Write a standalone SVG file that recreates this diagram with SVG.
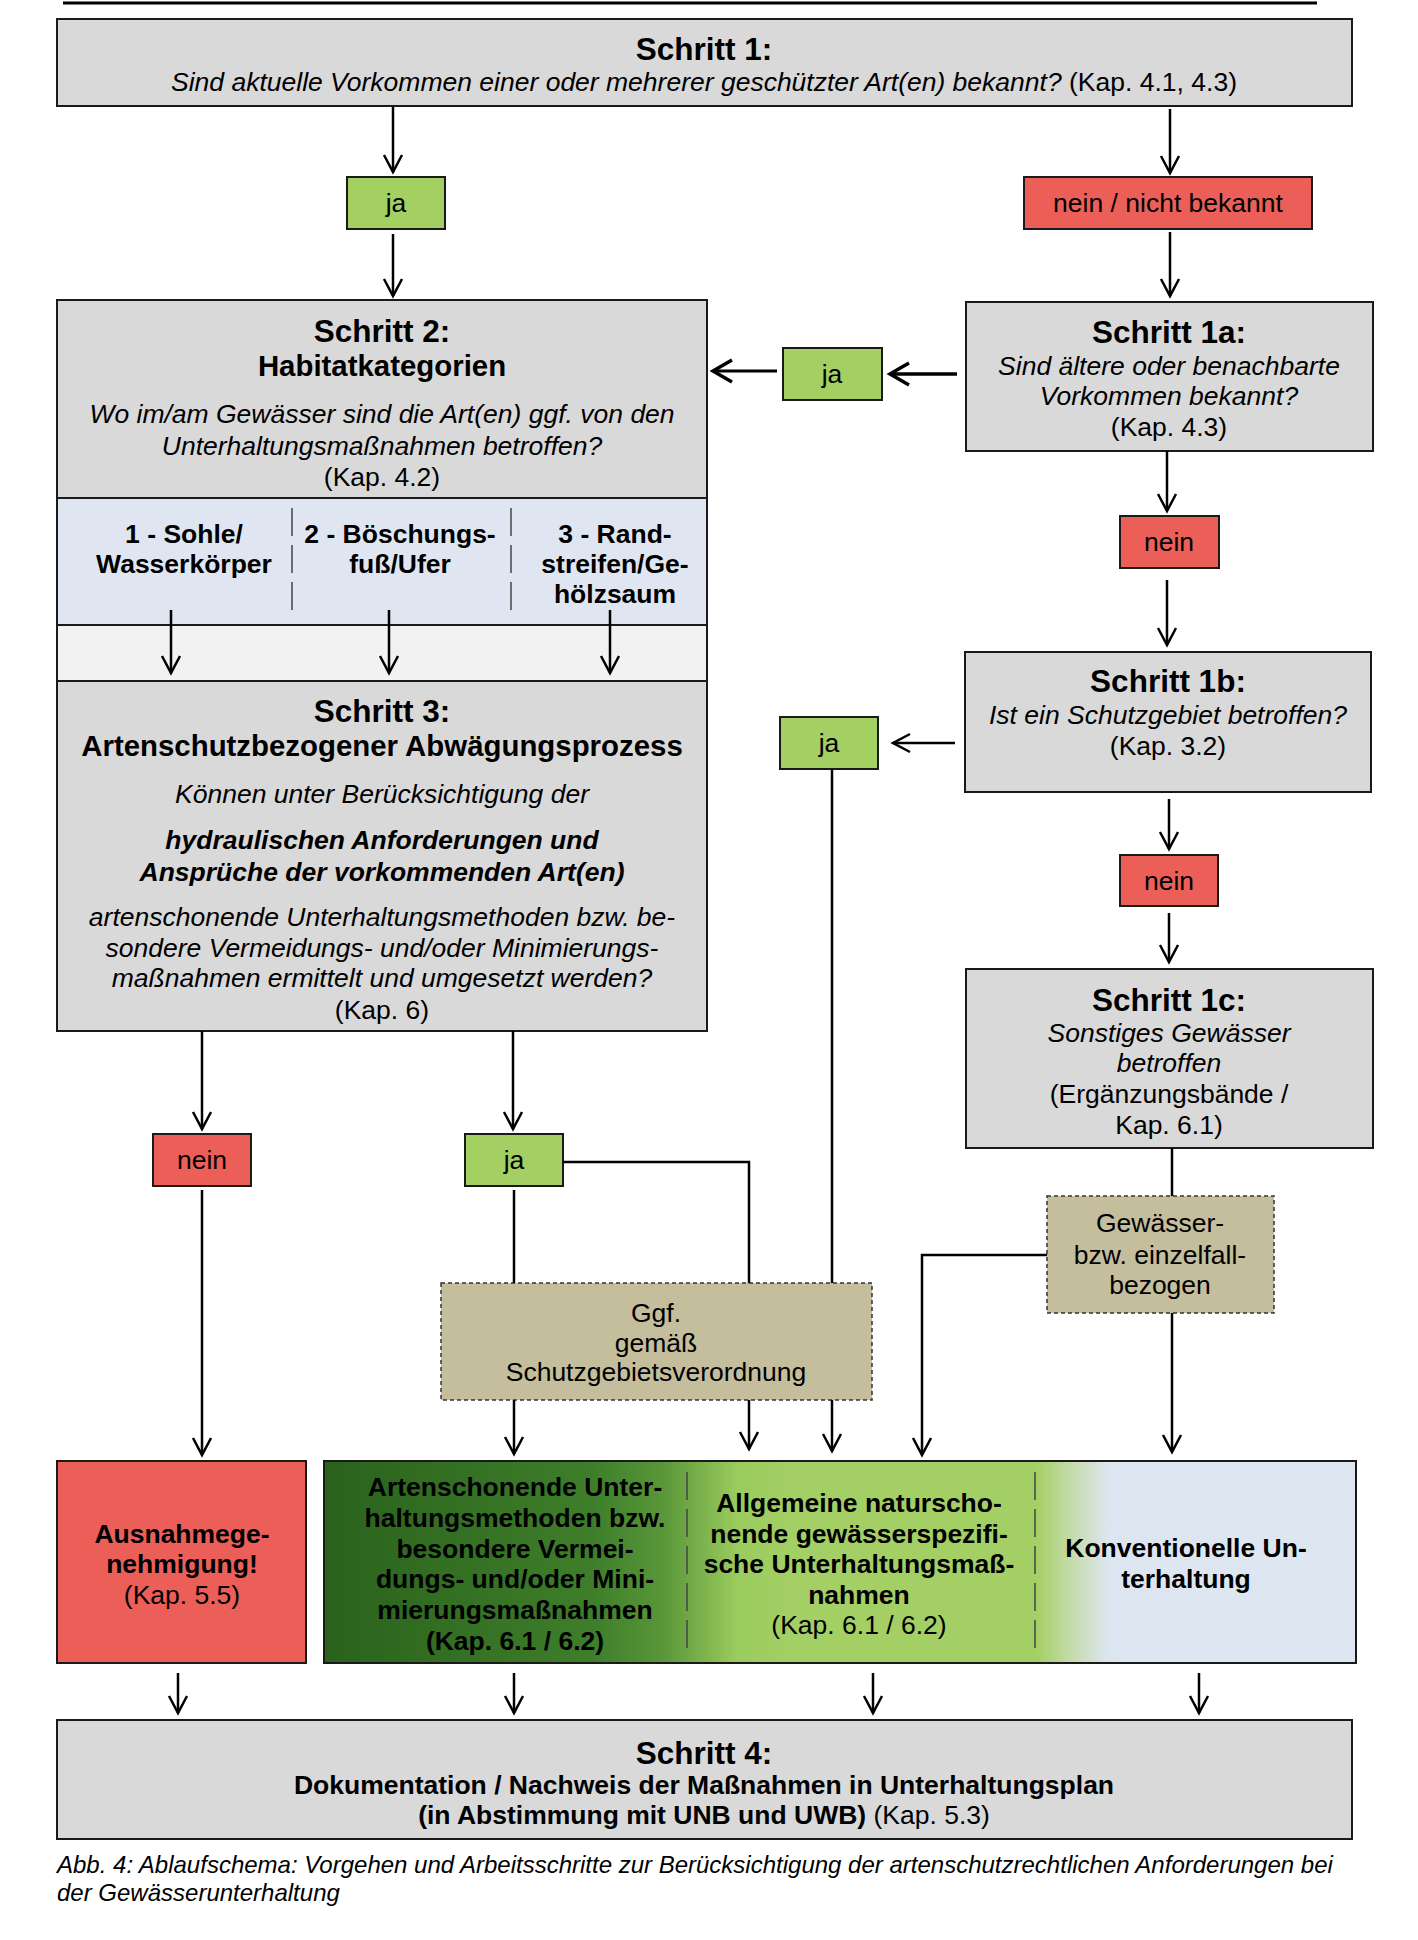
<svg xmlns="http://www.w3.org/2000/svg" width="1418" height="1940" viewBox="0 0 1418 1940">
<style>
text{font-family:"Liberation Sans",Arial,Helvetica,sans-serif;fill:#000;text-anchor:middle;font-size:26.5px}
.h{font-size:31.5px;font-weight:bold}
.s{font-size:29.4px;font-weight:bold}
.bd{font-weight:bold}
.it{font-style:italic}
.box{stroke:#1a1a1a;stroke-width:2}
.gray{fill:#d9d9d9}
.green{fill:#a3cf63}
.red{fill:#ec5f59}
.tan{fill:#c4be9d;stroke:#333;stroke-width:1.5;stroke-dasharray:4 3}
.sep{stroke:#444;stroke-width:1.5;stroke-dasharray:28 9;fill:none}
.cap{text-anchor:start;font-style:italic;font-size:24px}
</style>
<defs>
<marker id="arr" viewBox="-20 -12 24 24" refX="0" refY="0" markerWidth="24" markerHeight="24" markerUnits="userSpaceOnUse" orient="auto">
<path d="M-17,-9 L0,0 L-17,9" fill="none" stroke="#000" stroke-width="2.5"/>
</marker>
<marker id="arrT" viewBox="-22 -14 26 28" refX="0" refY="0" markerWidth="26" markerHeight="28" markerUnits="userSpaceOnUse" orient="auto">
<path d="M-19,-11 L0,0 L-19,11" fill="none" stroke="#000" stroke-width="3.5"/>
</marker>
<linearGradient id="grad" x1="324" y1="0" x2="1356" y2="0" gradientUnits="userSpaceOnUse">
<stop offset="0" stop-color="#2a621c"/>
<stop offset="0.26" stop-color="#3e7e2a"/>
<stop offset="0.33" stop-color="#5a973a"/>
<stop offset="0.40" stop-color="#9acb5d"/>
<stop offset="0.45" stop-color="#a3cf64"/>
<stop offset="0.69" stop-color="#a3cf64"/>
<stop offset="0.72" stop-color="#c2daa2"/>
<stop offset="0.76" stop-color="#dde6f0"/>
<stop offset="1" stop-color="#dee6f1"/>
</linearGradient>
</defs>

<rect width="1418" height="1940" fill="#fff"/>
<line x1="63" y1="3" x2="1317" y2="3" stroke="#000" stroke-width="3"/>

<g id="schritt1">
<rect class="box gray" x="57" y="19" width="1295" height="87"/>
<text class="h" x="704" y="60">Schritt 1:</text>
<text class="it" x="704" y="91">Sind aktuelle Vorkommen einer oder mehrerer geschützter Art(en) bekannt? <tspan font-style="normal">(Kap. 4.1, 4.3)</tspan></text>
</g>

<g id="ja1">
<rect class="box green" x="347" y="177" width="98" height="52"/>
<text x="396" y="212">ja</text>
</g>

<g id="nein1">
<rect class="box red" x="1024" y="177" width="288" height="52"/>
<text x="1168" y="212">nein / nicht bekannt</text>
</g>

<g id="schritt2">
<rect class="gray" x="57" y="300" width="650" height="198"/>
<rect fill="#dfe6f1" x="57" y="498" width="650" height="127"/>
<rect fill="#f2f2f2" x="57" y="625" width="650" height="56"/>
<line x1="57" y1="498" x2="707" y2="498" stroke="#1a1a1a" stroke-width="2"/>
<line x1="57" y1="625" x2="707" y2="625" stroke="#1a1a1a" stroke-width="2"/>
<rect class="box" fill="none" x="57" y="300" width="650" height="381"/>
<text class="h" x="382" y="342">Schritt 2:</text>
<text class="s" x="382" y="376">Habitatkategorien</text>
<text class="it" x="382" y="423">Wo im/am Gewässer sind die Art(en) ggf. von den</text>
<text class="it" x="382" y="455">Unterhaltungsmaßnahmen betroffen?</text>
<text x="382" y="486">(Kap. 4.2)</text>
<line class="sep" x1="292" y1="508" x2="292" y2="616"/>
<line class="sep" x1="511" y1="508" x2="511" y2="616"/>
<text class="bd" x="184" y="543">1 - Sohle/</text>
<text class="bd" x="184" y="573">Wasserkörper</text>
<text class="bd" x="400" y="543">2 - Böschungs-</text>
<text class="bd" x="400" y="573">fuß/Ufer</text>
<text class="bd" x="615" y="543">3 - Rand-</text>
<text class="bd" x="615" y="573">streifen/Ge-</text>
<text class="bd" x="615" y="603">hölzsaum</text>
</g>

<g id="schritt1a">
<rect class="box gray" x="966" y="302" width="407" height="149"/>
<text class="h" x="1169" y="343">Schritt 1a:</text>
<text class="it" x="1169" y="375">Sind ältere oder benachbarte</text>
<text class="it" x="1169" y="405">Vorkommen bekannt?</text>
<text x="1169" y="436">(Kap. 4.3)</text>
</g>

<g id="ja1a">
<rect class="box green" x="783" y="348" width="99" height="52"/>
<text x="832" y="383">ja</text>
</g>

<g id="nein1a">
<rect class="box red" x="1120" y="516" width="99" height="52"/>
<text x="1169" y="551">nein</text>
</g>

<g id="schritt1b">
<rect class="box gray" x="965" y="652" width="406" height="140"/>
<text class="h" x="1168" y="692">Schritt 1b:</text>
<text class="it" x="1168" y="724">Ist ein Schutzgebiet betroffen?</text>
<text x="1168" y="755">(Kap. 3.2)</text>
</g>

<g id="ja1b">
<rect class="box green" x="780" y="717" width="98" height="52"/>
<text x="829" y="752">ja</text>
</g>

<g id="nein1b">
<rect class="box red" x="1120" y="855" width="98" height="51"/>
<text x="1169" y="890">nein</text>
</g>

<g id="schritt1c">
<rect class="box gray" x="966" y="969" width="407" height="179"/>
<text class="h" x="1169" y="1011">Schritt 1c:</text>
<text class="it" x="1169" y="1042">Sonstiges Gewässer</text>
<text class="it" x="1169" y="1072">betroffen</text>
<text x="1169" y="1103">(Ergänzungsbände /</text>
<text x="1169" y="1134">Kap. 6.1)</text>
</g>

<g id="schritt3">
<rect class="box gray" x="57" y="681" width="650" height="350"/>
<text class="h" x="382" y="722">Schritt 3:</text>
<text class="s" x="382" y="756">Artenschutzbezogener Abwägungsprozess</text>
<text class="it" x="382" y="803">Können unter Berücksichtigung der</text>
<text class="it bd" x="382" y="849">hydraulischen Anforderungen und</text>
<text class="it bd" x="382" y="881">Ansprüche der vorkommenden Art(en)</text>
<text class="it" x="382" y="926">artenschonende Unterhaltungsmethoden bzw. be-</text>
<text class="it" x="382" y="957">sondere Vermeidungs- und/oder Minimierungs-</text>
<text class="it" x="382" y="987">maßnahmen ermittelt und umgesetzt werden?</text>
<text x="382" y="1019">(Kap. 6)</text>
</g>

<g id="nein3">
<rect class="box red" x="153" y="1134" width="98" height="52"/>
<text x="202" y="1169">nein</text>
</g>

<g id="ja3">
<rect class="box green" x="465" y="1134" width="98" height="52"/>
<text x="514" y="1169">ja</text>
</g>

<g id="ggf">
<rect class="tan" x="441" y="1283" width="431" height="117"/>
<text x="656" y="1322">Ggf.</text>
<text x="656" y="1352">gemäß</text>
<text x="656" y="1381">Schutzgebietsverordnung</text>
</g>

<g id="gewaesser">
<rect class="tan" x="1047" y="1196" width="227" height="117"/>
<text x="1160" y="1232">Gewässer-</text>
<text x="1160" y="1264">bzw. einzelfall-</text>
<text x="1160" y="1294">bezogen</text>
</g>

<g id="ausnahme">
<rect class="box red" x="57" y="1461" width="249" height="202"/>
<text class="bd" x="182" y="1543">Ausnahmege-</text>
<text class="bd" x="182" y="1573">nehmigung!</text>
<text x="182" y="1604">(Kap. 5.5)</text>
</g>

<g id="massnahmen">
<rect class="box" fill="url(#grad)" x="324" y="1461" width="1032" height="202"/>
<line class="sep" x1="687" y1="1472" x2="687" y2="1649"/>
<line class="sep" x1="1035" y1="1472" x2="1035" y2="1649"/>
<text class="bd" x="515" y="1496">Artenschonende Unter-</text>
<text class="bd" x="515" y="1527">haltungsmethoden bzw.</text>
<text class="bd" x="515" y="1558">besondere Vermei-</text>
<text class="bd" x="515" y="1588">dungs- und/oder Mini-</text>
<text class="bd" x="515" y="1619">mierungsmaßnahmen</text>
<text class="bd" x="515" y="1650">(Kap. 6.1 / 6.2)</text>
<text class="bd" x="859" y="1512">Allgemeine naturscho-</text>
<text class="bd" x="859" y="1543">nende gewässerspezifi-</text>
<text class="bd" x="859" y="1573">sche Unterhaltungsmaß-</text>
<text class="bd" x="859" y="1604">nahmen</text>
<text x="859" y="1634">(Kap. 6.1 / 6.2)</text>
<text class="bd" x="1186" y="1557">Konventionelle Un-</text>
<text class="bd" x="1186" y="1588">terhaltung</text>
</g>

<g id="schritt4">
<rect class="box gray" x="57" y="1720" width="1295" height="119"/>
<text class="h" x="704" y="1764">Schritt 4:</text>
<text class="bd" x="704" y="1794">Dokumentation / Nachweis der Maßnahmen in Unterhaltungsplan</text>
<text x="704" y="1824"><tspan font-weight="bold">(in Abstimmung mit UNB und UWB)</tspan> (Kap. 5.3)</text>
</g>

<g id="caption">
<text class="cap" x="57" y="1873">Abb. 4: Ablaufschema: Vorgehen und Arbeitsschritte zur Berücksichtigung der artenschutzrechtlichen Anforderungen bei</text>
<text class="cap" x="57" y="1901">der Gewässerunterhaltung</text>
</g>

<g id="connectors" fill="none" stroke="#000" stroke-width="2.5">
<path d="M393,107 V172" marker-end="url(#arr)"/>
<path d="M393,234 V296" marker-end="url(#arr)"/>
<path d="M1170,109 V173" marker-end="url(#arr)"/>
<path d="M1170,232 V296" marker-end="url(#arr)"/>
<path d="M957,374 H890" stroke-width="3.5" marker-end="url(#arrT)"/>
<path d="M777,371 H713" stroke-width="3" marker-end="url(#arrT)"/>
<path d="M1167,451 V511" marker-end="url(#arr)"/>
<path d="M1167,580 V645" marker-end="url(#arr)"/>
<path d="M955,743 H893" marker-end="url(#arr)"/>
<path d="M1169,799 V849" marker-end="url(#arr)"/>
<path d="M1169,913 V962" marker-end="url(#arr)"/>
<path d="M171,610 V673" marker-end="url(#arr)"/>
<path d="M389,610 V673" marker-end="url(#arr)"/>
<path d="M610,610 V673" marker-end="url(#arr)"/>
<path d="M202,1031 V1129" marker-end="url(#arr)"/>
<path d="M513,1031 V1129" marker-end="url(#arr)"/>
<path d="M202,1190 V1455" marker-end="url(#arr)"/>
<path d="M514,1190 V1283"/>
<path d="M563,1162 H749 V1283"/>
<path d="M832,769 V1283"/>
<path d="M514,1400 V1454" marker-end="url(#arr)"/>
<path d="M749,1400 V1449" marker-end="url(#arr)"/>
<path d="M832,1400 V1451" marker-end="url(#arr)"/>
<path d="M1172,1148 V1196"/>
<path d="M1047,1255 H922 V1455" marker-end="url(#arr)"/>
<path d="M1172,1313 V1452" marker-end="url(#arr)"/>
<path d="M178,1673 V1713" marker-end="url(#arr)"/>
<path d="M514,1673 V1713" marker-end="url(#arr)"/>
<path d="M873,1673 V1713" marker-end="url(#arr)"/>
<path d="M1199,1673 V1713" marker-end="url(#arr)"/>
</g>
</svg>
